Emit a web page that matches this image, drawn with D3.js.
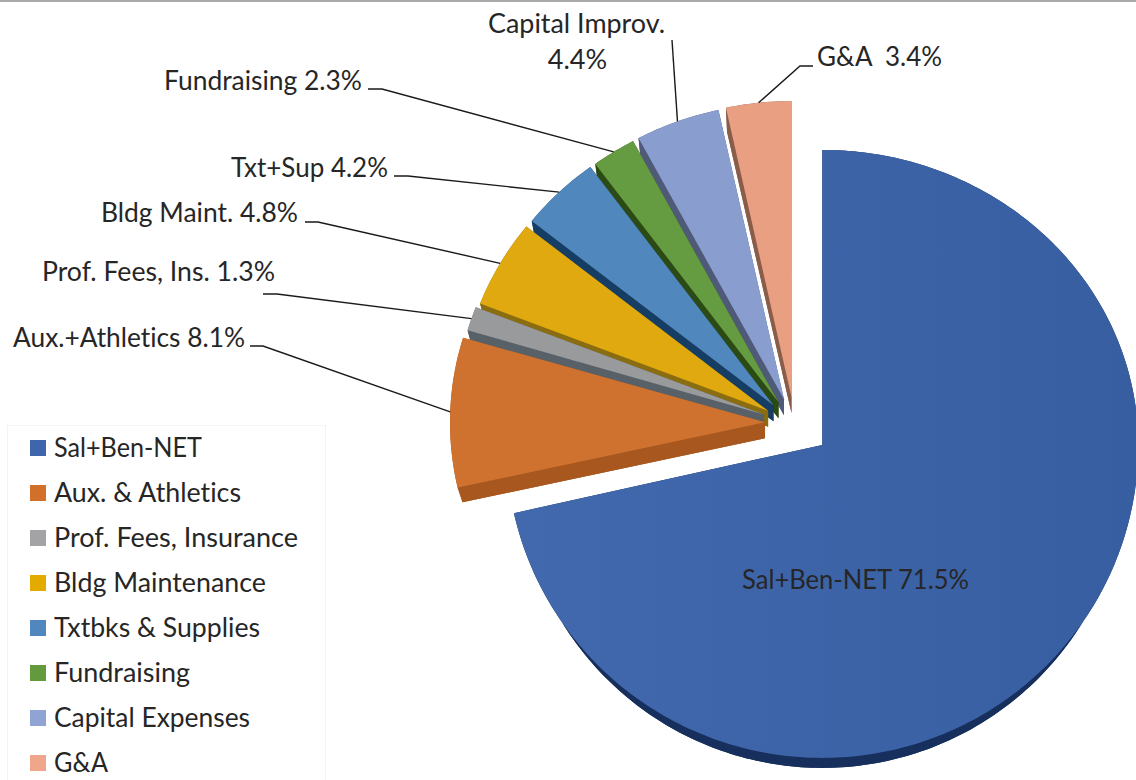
<!DOCTYPE html>
<html>
<head>
<meta charset="utf-8">
<script src="https://cdnjs.cloudflare.com/ajax/libs/d3/7.8.5/d3.min.js"></script>
<style>
  html, body { margin: 0; padding: 0; background: #fff; }
  svg { display: block; }
  text { font-family: "Lato", "Open Sans", sans-serif; fill: #262626; font-variant-ligatures: none; }
</style>
</head>
<body>
<div id="chart"></div>
<script>
// slices, clockwise from 12 o'clock
var categories = ["Sal+Ben-NET", "Aux. & Athletics", "Prof. Fees, Insurance", "Bldg Maintenance",
                  "Txtbks & Supplies", "Fundraising", "Capital Expenses", "G&A"];
var values = [71.5, 8.1, 1.3, 4.8, 4.2, 2.3, 4.4, 3.4];

// data labels, same order as the slices
var labels = ["Sal+Ben-NET 71.5%", "Aux.+Athletics 8.1%", "Prof. Fees, Ins. 1.3%", "Bldg Maint. 4.8%",
              "Txt+Sup 4.2%", "Fundraising 2.3%", "Capital Improv.|4.4%", "G&A  3.4%"];

var legendColors = ["#3f65ad", "#d2702b", "#a3a3a6", "#e3ab00", "#5088be", "#649a3e", "#90a4d4", "#f0a68b"];
var topColors = ["#3d63a8", "#cf7230", "#999a9c", "#e0a90f", "#5087bd", "#669c41", "#8a9dcf", "#e89f82"];
var wallColors = ["#172f5c", "#a8581f", "#586068", "#8a6d10", "#163d63", "#2c4a14", "#4f5a78", "#8a5c4a"];

var width = 1136,
    height = 780;

// tilted pie: every slice is pushed out from this centre
var pieX = 795, pieY = 423;
var explode = [35, 30, 33, 31, 31, 31, 32, 33];
var radius = [316, 315, 309, 309, 309, 309, 309, 309];
var backLift = 0.79;

var svg = d3.select("#chart")
  .append("svg")
    .attr("width", width)
    .attr("height", height);

var defs = svg.append("defs");
var mainGrad = defs.append("linearGradient").attr("id", "mainGrad");
mainGrad.append("stop").attr("offset", "0%").attr("stop-color", "#4268ad");
mainGrad.append("stop").attr("offset", "100%").attr("stop-color", "#385ea2");

// rule along the top of the picture
svg.append("rect")
  .attr("x", 0).attr("y", 0)
  .attr("width", width).attr("height", 2)
  .attr("fill", "#a9a9a9");

var pie = d3.pie().sort(null).startAngle(0).endAngle(2 * Math.PI);
var arcs = pie(values);

function faceOf(i, lower) {
  var mid = (arcs[i].startAngle + arcs[i].endAngle) / 2;
  var e = explode[i];
  var c = Math.cos(mid);
  var big = i === 0;
  var f = {
    x: pieX + e * Math.sin(mid),
    y: pieY - e * c * (c > 0 ? backLift : 1),
    rx: radius[i],
    up: big ? 295 : 296,
    down: big ? 313 : 300
  };
  if (lower) {
    f.y += 16;
    f.rx -= big ? 10 : 5;
    f.up -= 8;
    f.down -= 6;
  }
  return f;
}

function rim(f, a) {
  var c = Math.cos(a);
  return [f.x + f.rx * Math.sin(a), f.y - c * (c > 0 ? f.up : f.down)];
}

function arcPoints(f, a0, a1) {
  var n = Math.max(4, Math.ceil((a1 - a0) * 60));
  return d3.range(n + 1).map(function(k) {
    return rim(f, a0 + (a1 - a0) * k / n);
  });
}

var line = d3.line();

// back slices first, the big one last
var order = [7, 6, 5, 4, 3, 2, 1, 0];

order.forEach(function(i) {
  var a0 = arcs[i].startAngle, a1 = arcs[i].endAngle;
  var top = faceOf(i, false), low = faceOf(i, true);
  var topArc = arcPoints(top, a0, a1), lowArc = arcPoints(low, a0, a1);
  var g = svg.append("g").attr("class", "slice");

  // underside, sides and rim share the wall colour
  g.append("path")
    .attr("d", line([[low.x, low.y]].concat(lowArc)) + "Z")
    .attr("fill", wallColors[i]);
  g.append("path")
    .attr("d", line([[top.x, top.y], topArc[0], lowArc[0], [low.x, low.y]]) + "Z")
    .attr("fill", wallColors[i]);
  g.append("path")
    .attr("d", line([[top.x, top.y], topArc[topArc.length - 1], lowArc[lowArc.length - 1], [low.x, low.y]]) + "Z")
    .attr("fill", wallColors[i]);
  g.append("path")
    .attr("d", line(topArc.concat(lowArc.slice().reverse())) + "Z")
    .attr("fill", wallColors[i]);

  g.append("path")
    .attr("d", line([[top.x, top.y]].concat(topArc)) + "Z")
    .attr("fill", i === 0 ? "url(#mainGrad)" : topColors[i]);
});

// label placement: text start, baseline, leader start and elbow
var labelX = [742, 13, 42, 101, 231, 164, 488, 817];
var labelY = [589, 347, 281, 222, 177, 90, 33, 66];
var labelW = [227, 232, 233, 197, 157, 198, 177, 125];
var leaderFrom = [null, [250, 346], [263, 294], [305, 222], [394, 176], [368, 89], [672, 40], [813, 66]];
var leaderBend = [null, [263, 346], [277, 294], [318, 222], [408, 176], [382, 89], null, [800, 66]];

labels.forEach(function(txt, i) {
  var parts = txt.split("|");
  svg.append("text")
    .attr("x", labelX[i])
    .attr("y", labelY[i])
    .attr("font-size", 27)
    .attr("textLength", labelW[i])
    .attr("lengthAdjust", "spacingAndGlyphs")
    .style("white-space", "pre")
    .text(parts[0]);

  if (parts[1]) {
    svg.append("text")
      .attr("x", labelX[i] + labelW[i] / 2 + 1)
      .attr("y", labelY[i] + 36)
      .attr("font-size", 27)
      .attr("text-anchor", "middle")
      .text(parts[1]);
  }

  if (leaderFrom[i]) {
    var mid = (arcs[i].startAngle + arcs[i].endAngle) / 2;
    var pts = [leaderFrom[i]];
    if (leaderBend[i]) pts.push(leaderBend[i]);
    pts.push(rim(faceOf(i, false), mid));
    svg.append("path")
      .attr("d", line(pts))
      .attr("fill", "none")
      .attr("stroke", "#1a1a1a")
      .attr("stroke-width", 1.4);
  }
});

// legend
var legendW = [148, 187, 244, 212, 206, 136, 196, 54];
var legendY = d3.scalePoint().domain(d3.range(categories.length)).range([456, 771]);

svg.append("rect")
  .attr("x", 7.5).attr("y", 425.5)
  .attr("width", 318).attr("height", 360)
  .attr("fill", "#fff")
  .attr("stroke", "#f3f3f3");

var legend = svg.selectAll("g.legend")
    .data(categories)
  .enter().append("g")
    .attr("class", "legend");

legend.append("rect")
  .attr("x", 30)
  .attr("y", function(d, i) { return legendY(i) - 16; })
  .attr("width", 16)
  .attr("height", 16)
  .attr("fill", function(d, i) { return legendColors[i]; });

legend.append("text")
  .attr("x", 54)
  .attr("y", function(d, i) { return legendY(i) + 1; })
  .attr("font-size", 27)
  .attr("textLength", function(d, i) { return legendW[i]; })
  .attr("lengthAdjust", "spacingAndGlyphs")
  .text(function(d) { return d; });
</script>
</body>
</html>
